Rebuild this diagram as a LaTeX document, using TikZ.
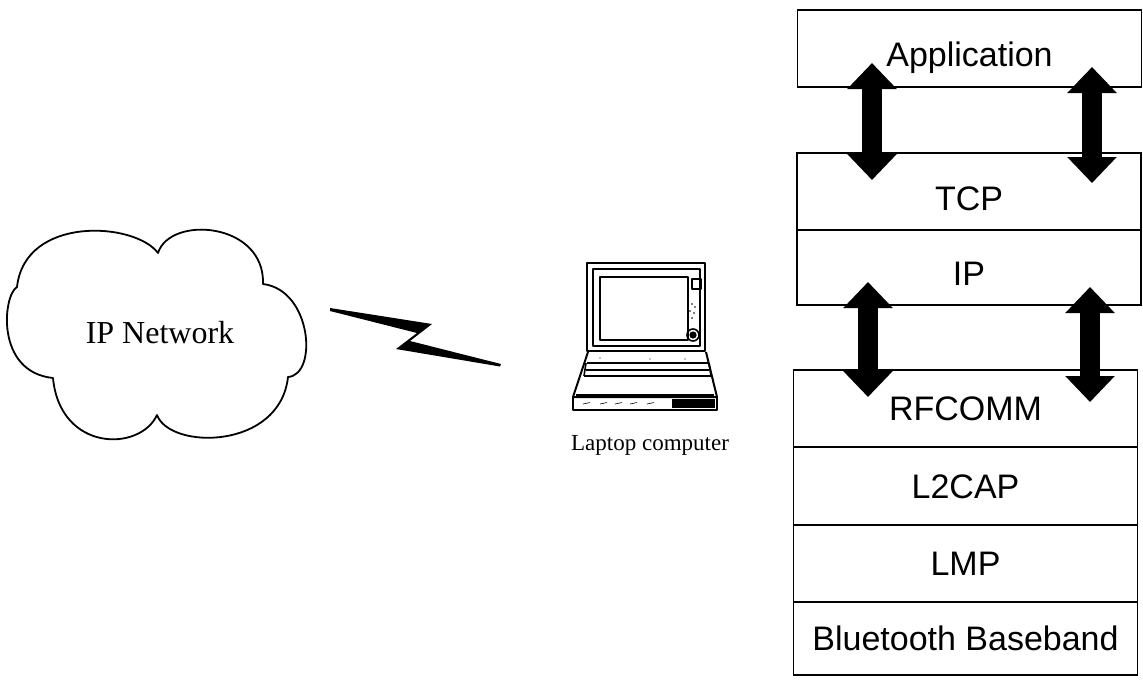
\documentclass[tikz,border=0pt]{standalone}
\usepackage{fontspec}
\setmainfont{Liberation Serif}
\newfontfamily\layerfont{Liberation Sans}
\usetikzlibrary{arrows.meta}

\begin{document}
\begin{tikzpicture}[x=1pt,y=-1pt,
  layer/.style={draw,line width=1.3pt,inner sep=0pt,minimum width=344pt,
    font=\layerfont\fontsize{34}{34}\selectfont,text height=24.3pt,text depth=0pt},
  stackarrow/.style={line width=20pt,
    {Triangle[width=48pt,length=26pt]}-{Triangle[width=48pt,length=26pt]}},
  serif/.style={inner sep=0pt,text depth=0pt},
  laptopline/.style={line width=1.6pt,line join=round},
]
\useasboundingbox (0,0) rectangle (1143,681);

% ---- protocol stack on the right ----
\node[layer,minimum height=77pt,text height=35.3pt] (app) at (969.5,48.5) {Application};
\node[layer,minimum height=77pt,text height=37.3pt] (tcp) at (969,191.5) {TCP};
\node[layer,minimum height=75pt,text height=35.3pt] (ip)  at (969,267.5) {IP};
\node[layer,minimum height=77pt] (rfcomm) at (965.5,408.5) {RFCOMM};
\node[layer,minimum height=78pt] (l2cap)  at (965.5,486) {L2CAP};
\node[layer,minimum height=77pt] (lmp)    at (965.5,563.5) {LMP};
\node[layer,minimum height=73pt] (bb)     at (965.5,638.5) {Bluetooth Baseband};

% arrow end points inside the layer boxes
\coordinate (appL) at (872,63);   \coordinate (tcpL) at (872,180);
\coordinate (appR) at (1092,67);  \coordinate (tcpR) at (1092,183);
\coordinate (ipL)  at (868,282);  \coordinate (rfL)  at (868,397);
\coordinate (ipR)  at (1090,287); \coordinate (rfR)  at (1090,402);

\draw[stackarrow] (appL) -- (tcpL);
\draw[stackarrow] (appR) -- (tcpR);
\draw[stackarrow] (ipL) -- (rfL);
\draw[stackarrow] (ipR) -- (rfR);

% ---- cloud ----
\draw[line width=1.8pt,line join=round]
  (17,287) .. controls (25,215) and (135,222) .. (158,253)
           .. controls (170,215) and (265,222) .. (263,284)
           .. controls (312,290) and (318,375) .. (288,377)
           .. controls (280,450) and (170,450) .. (157,415)
           .. controls (140,452) and (60,452) .. (53,378)
           .. controls (-5,372) and (3,295) .. cycle;
\node[serif,font=\fontsize{32}{32}\selectfont,text height=21.2pt] (net) at (160,332.5) {IP Network};

% ---- wireless link ----
\fill (330,308) -- (432,324) -- (410,341) -- (501,364) -- (500,366.5)
      -- (396,349) -- (417,333) -- (330,311) -- cycle;

% ---- laptop ----
\begin{scope}[laptopline]
  % lid
  \draw[line width=2pt] (587,263) rectangle (705,351);
  \draw (593,269) rectangle (700,346);
  \draw[line width=2.6pt] (600,277) rectangle (688,340);
  \draw (692,279) rectangle (701,289);
  \draw (693,335) circle (6pt);
  \fill (693,335) circle (3.6pt);
  \fill (692,304) circle (0.8pt) (695,307) circle (0.8pt) (690,311) circle (0.8pt)
        (694,313) circle (0.8pt) (692,318) circle (0.8pt);
  % base
  \draw[line width=2pt] (588,352) -- (573,397) -- (717,397) -- (706,352);
  \draw (587,363) -- (708,363);
  \draw[line width=2pt] (586,370) -- (709,370);
  \draw (584,376) -- (711,376);
  \draw (576,395) -- (714,395);
  \draw (586,363) -- (584,376) (709,363) -- (711,376);
  \fill (600,358) circle (0.7pt) (650,359) circle (0.7pt) (685,359) circle (0.7pt);
  % front strip
  \draw[line width=2pt] (573,397) rectangle (717,410);
  \fill (672,399) rectangle (715,408);
  \foreach \xa in {583,600,615,630,647}
    \draw[line width=0.6pt] (\xa,404) -- ++(7,-1.5);
\end{scope}
\node[serif,font=\fontsize{23}{23}\selectfont,text height=15.2pt] (lapname) at (650,443) {Laptop computer};

\end{tikzpicture}
\end{document}
